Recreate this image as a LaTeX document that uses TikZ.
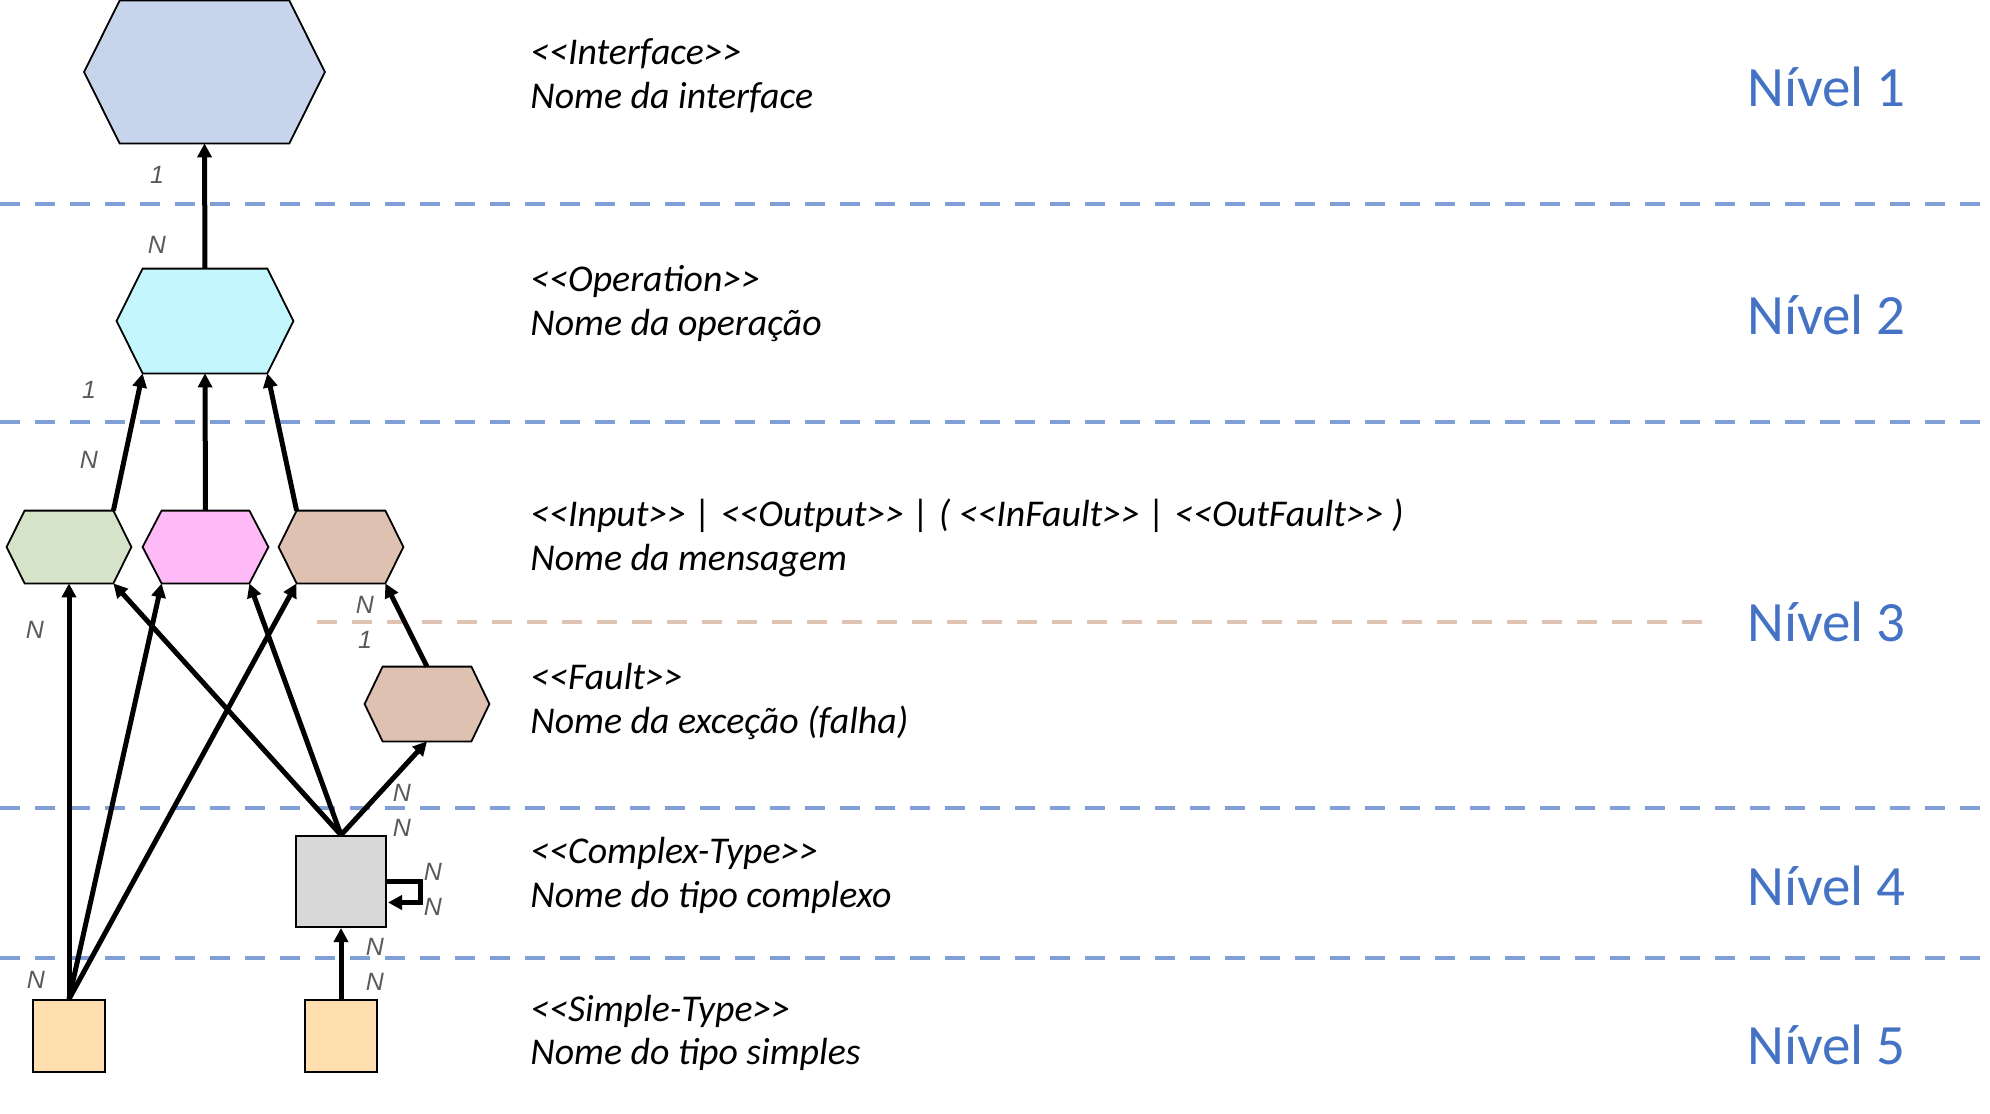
\documentclass[tikz,border=0pt]{standalone}
\usepackage{fontspec}
\setmainfont{Carlito}
\newfontfamily\mulfont{Liberation Sans}
\usetikzlibrary{arrows.meta,calc}
\definecolor{lvlblue}{HTML}{4472C4}
\definecolor{dashblue}{HTML}{7F9FD6}
\definecolor{dashtan}{HTML}{DEC3B3}
\definecolor{cIface}{HTML}{C8D4EC}
\definecolor{cOp}{HTML}{C4F6FD}
\definecolor{cIn}{HTML}{D5E4C8}
\definecolor{cOut}{HTML}{FDBAF6}
\definecolor{cFlt}{HTML}{DEC1B0}
\definecolor{cCx}{HTML}{D8D8D8}
\definecolor{cSt}{HTML}{FFDFB0}
\definecolor{mulgray}{HTML}{595959}
\newcommand{\hexnode}[7]{%
  \node[hexbody, minimum width={#4*0.5pt}, minimum height={#5*0.5pt}] (#1) at (#2,#3) {};
  \filldraw[hexline, fill=#7] (#1.north west) -- (#1.north east) -- ($(#1.east)+(#6,0)$) -- (#1.south east) -- (#1.south west) -- ($(#1.west)-(#6,0)$) -- cycle;
}
\begin{document}
\begin{tikzpicture}[x=0.5pt, y=-0.5pt,
  hexbody/.style={rectangle, inner sep=0pt, draw=none},
  hexline/.style={draw=black, line width=0.9pt, line join=miter},
  boxnode/.style={rectangle, draw=black, line width=1pt, inner sep=0pt},
  arr/.style={line width=2.5pt, line join=miter, -{Triangle[width=7pt,length=7pt]}},
  lvlsep/.style={dashblue, line width=2pt, dash pattern=on 10pt off 7.5pt},
  subsep/.style={dashtan, line width=2pt, dash pattern=on 10pt off 7.5pt},
  mul/.style={font=\mulfont\itshape\fontsize{12.5}{14}\selectfont, text=mulgray, inner sep=0pt},
  desc/.style={font=\itshape\fontsize{18.9}{22}\selectfont, anchor=base west, inner sep=0pt},
  lvl/.style={font=\fontsize{28.5}{34}\selectfont, text=lvlblue, anchor=west, inner sep=0pt},
]
\useasboundingbox (0,0) rectangle (1990,1113);

% level separators
\draw[lvlsep] (0,204) -- (1980,204);
\draw[lvlsep] (0,422) -- (1980,422);
\draw[lvlsep] (0,808) -- (1980,808);
\draw[lvlsep] (0,958) -- (1980,958);
\draw[subsep] (317,622) -- (1702,622);

% hexagons
\hexnode{iface}{204.5}{72}{169}{142}{35.5}{cIface}
\hexnode{op}{205}{321}{124}{104}{26}{cOp}
\hexnode{in}{69}{547}{88}{72}{18}{cIn}
\hexnode{out}{205.5}{547}{87}{72}{19}{cOut}
\hexnode{flt}{341}{547}{88}{72}{18}{cFlt}
\hexnode{fault}{427}{704}{88}{74}{18}{cFlt}

% boxes
\node[boxnode, fill=cCx, minimum width=45pt, minimum height=45.5pt] (cx) at (341,881.5) {};
\node[boxnode, fill=cSt, minimum width=36pt, minimum height=36pt] (s1) at (69,1036) {};
\node[boxnode, fill=cSt, minimum width=36pt, minimum height=36pt] (s2) at (341,1036) {};

% connectors
\draw[arr] (op.north) -- (iface.south);
\draw[arr] (in.north east) -- (op.south west);
\draw[arr] (out.north) -- (op.south);
\draw[arr] (flt.north west) -- (op.south east);
\draw[arr] (fault.north) -- (flt.south east);
\draw[arr] (s1.north) -- (in.south);
\draw[arr] (s1.north) -- (out.south west);
\draw[arr] (s1.north) -- (flt.south west);
\draw[arr] (cx.north) -- (in.south east);
\draw[arr] (cx.north) -- (out.south east);
\draw[arr] (cx.north) -- (fault.south);
\draw[arr] (s2.north) -- (cx.south);
\draw[arr] (cx.east) -- ++(33,0) -- ++(0,21) -- ++(-32,0);

% multiplicities
\node[mul] (m1) at (157,175) {1};
\node[mul] (m2) at (157,245) {N};
\node[mul] (m3) at (89,390) {1};
\node[mul] (m4) at (89,460) {N};
\node[mul] (m5) at (35,630) {N};
\node[mul] (m6) at (365,605) {N};
\node[mul] (m7) at (365,640) {1};
\node[mul] (m8) at (402,793) {N};
\node[mul] (m9) at (402,828) {N};
\node[mul] (m10) at (433,872) {N};
\node[mul] (m11) at (433,907) {N};
\node[mul] (m12) at (375,947) {N};
\node[mul] (m13) at (375,982) {N};
\node[mul] (m14) at (36,980) {N};

% descriptions
\node[desc] (t1a) at (530,65) {<{}<Interface>{}>};
\node[desc] (t1b) at (530,109) {Nome da interface};
\node[desc] (t2a) at (530,291) {<{}<Operation>{}>};
\node[desc] (t2b) at (530,335) {Nome da operação};
\node[desc] (t3a) at (530,526) {<{}<Input>{}> | <{}<Output>{}> | ( <{}<InFault>{}> | <{}<OutFault>{}> )};
\node[desc] (t3b) at (530,570) {Nome da mensagem};
\node[desc] (t4a) at (530,689) {<{}<Fault>{}>};
\node[desc] (t4b) at (530,733) {Nome da exceção (falha)};
\node[desc] (t5a) at (530,863) {<{}<Complex-Type>{}>};
\node[desc] (t5b) at (530,907) {Nome do tipo complexo};
\node[desc] (t6a) at (530,1021) {<{}<Simple-Type>{}>};
\node[desc] (t6b) at (530,1064) {Nome do tipo simples};

% levels
\node[lvl] (n1) at (1747,87) {Nível 1};
\node[lvl] (n2) at (1747,315) {Nível 2};
\node[lvl] (n3) at (1747,622) {Nível 3};
\node[lvl] (n4) at (1747,886) {Nível 4};
\node[lvl] (n5) at (1747,1045) {Nível 5};
\end{tikzpicture}
\end{document}
